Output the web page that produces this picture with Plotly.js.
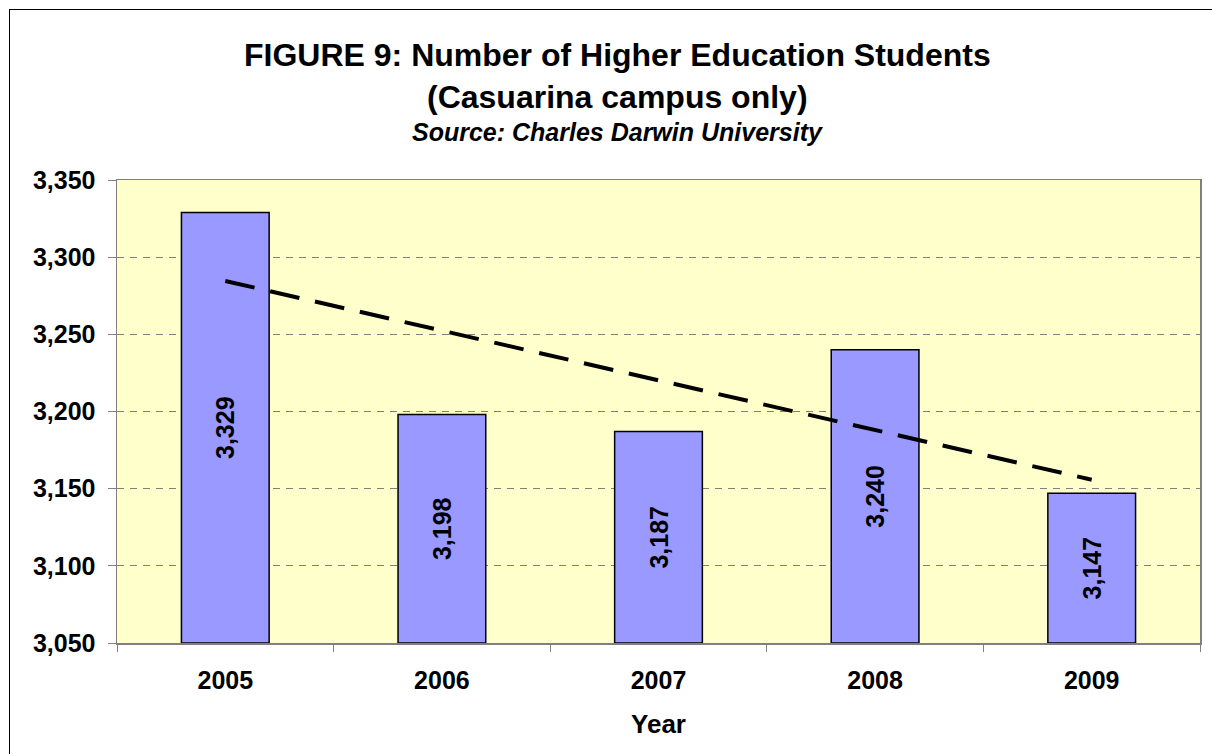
<!DOCTYPE html>
<html>
<head>
<meta charset="utf-8">
<script src="https://cdn.plot.ly/plotly-3.0.1.min.js"></script>
<style>
html,body{margin:0;padding:0;background:#fff;}
#wrap{position:relative;width:1212px;height:754px;overflow:hidden;}
#frame{position:absolute;left:9px;top:9px;width:1220px;height:760px;border:1.5px solid #000;box-sizing:border-box;pointer-events:none;z-index:5;}
#chart{position:absolute;left:0;top:0;width:1212px;height:754px;}
</style>
</head>
<body>
<div id="wrap"><div id="chart"></div><div id="frame"></div></div>
<script>
const years = ['2005', '2006', '2007', '2008', '2009'];
const students = [3329, 3198, 3187, 3240, 3147];
const trendValues = [3284.6, 3252.4, 3220.2, 3188.0, 3155.8];
const yTicks = [3050, 3100, 3150, 3200, 3250, 3300, 3350];
const yBase = 3050;

const FONT = 'Liberation Sans, Arial, sans-serif';

const bars = {
  type: 'bar',
  x: years,
  y: students.map(v => v - yBase),
  base: yBase,
  width: 0.405,
  marker: {color: '#9999FF', line: {color: '#000', width: 1.5}},
  text: students.map(v => v.toLocaleString('en-US')),
  textposition: 'inside',
  insidetextanchor: 'middle',
  textangle: -90,
  constraintext: 'none',
  textfont: {family: FONT, size: 25, color: '#000', weight: 'bold'},
  hoverinfo: 'skip',
  showlegend: false
};

const trend = {
  type: 'scatter',
  mode: 'lines',
  x: years,
  y: trendValues,
  line: {color: '#000', width: 4, dash: '30px,16px'},
  hoverinfo: 'skip',
  showlegend: false
};

const layout = {
  width: 1212, height: 754,
  margin: {l: 117, r: 12, t: 180, b: 111},
  paper_bgcolor: '#fff',
  plot_bgcolor: '#FFFFCC',
  font: {family: FONT, color: '#000'},
  xaxis: {
    type: 'category',
    tickson: 'boundaries',
    ticks: 'outside', ticklen: 7, tickcolor: '#808080', tickwidth: 1,
    showline: true, linecolor: '#808080', linewidth: 1.5, mirror: true,
    showgrid: false,
    tickfont: {family: FONT, size: 25, weight: 'bold'},
    ticklabelstandoff: 14,
    title: {text: 'Year', font: {family: FONT, size: 26, weight: 'bold'}, standoff: 22},
    fixedrange: true
  },
  yaxis: {
    range: [3050, 3350],
    tickvals: yTicks,
    ticktext: yTicks.map(v => v.toLocaleString('en-US')),
    ticks: 'outside', ticklen: 8, tickcolor: '#808080', tickwidth: 1,
    showline: true, linecolor: '#808080', linewidth: 1.5, mirror: true,
    showgrid: true, gridcolor: '#808080', gridwidth: 1, griddash: '7px,6px',
    zeroline: false,
    tickfont: {family: FONT, size: 25, weight: 'bold'},
    ticklabelstandoff: 7,
    fixedrange: true
  },
  annotations: [
    {text: 'FIGURE 9: Number of Higher Education Students', xref: 'paper', yref: 'paper',
     x: 0.462, y: 1, yshift: 125, xanchor: 'center', yanchor: 'middle', showarrow: false,
     font: {family: FONT, size: 32, weight: 'bold'}},
    {text: '(Casuarina campus only)', xref: 'paper', yref: 'paper',
     x: 0.462, y: 1, yshift: 83, xanchor: 'center', yanchor: 'middle', showarrow: false,
     font: {family: FONT, size: 32, weight: 'bold'}},
    {text: '<i>Source: Charles Darwin University</i>', xref: 'paper', yref: 'paper',
     x: 0.462, y: 1, yshift: 48, xanchor: 'center', yanchor: 'middle', showarrow: false,
     font: {family: FONT, size: 25, weight: 'bold'}}
  ]
};

Plotly.newPlot('chart', [bars, trend], layout, {staticPlot: true, displayModeBar: false});
</script>
</body>
</html>
